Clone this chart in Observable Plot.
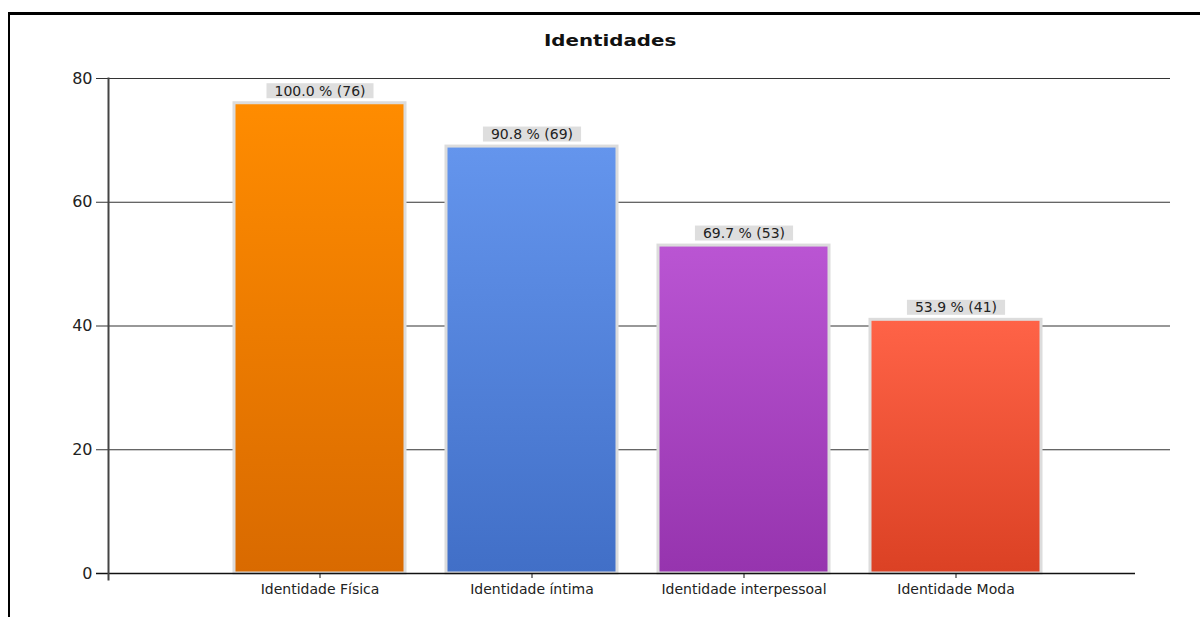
<!DOCTYPE html>
<html>
<head>
<meta charset="utf-8">
<script src="https://cdn.jsdelivr.net/npm/d3@7"></script>
<script src="https://cdn.jsdelivr.net/npm/@observablehq/plot@0.6"></script>
<style>
  html, body { margin: 0; padding: 0; background: #fff; width: 1200px; height: 617px; overflow: hidden; }
  #frame { position: absolute; left: 8px; top: 12px; width: 1300px; height: 700px; border-left: 2px solid #000; border-top: 3px solid #000; }
  #title { position: absolute; left: 0; top: 31px; width: 1220px; text-align: center; }
  #title span { display: inline-block; font-family: "DejaVu Sans", sans-serif; font-weight: bold; font-size: 16.5px; color: #111; transform: scaleX(1.2); }
  #chart { position: absolute; left: 0; top: 0; }
</style>
</head>
<body>
<div id="frame"></div>
<div id="title"><span>Identidades</span></div>
<div id="chart"></div>
<script>
const categories = ["Identidade Física", "Identidade íntima", "Identidade interpessoal", "Identidade Moda"];
const counts = [76, 69, 53, 41];
const percents = ["100.0", "90.8", "69.7", "53.9"];
const yTicks = [0, 20, 40, 60, 80];
const gridValues = [20, 40, 60, 80];
const gradientTop = ["#ff8c00", "#6495ed", "#ba55d3", "#ff6347"];
const gradientBottom = ["#d96a00", "#416fc7", "#9634ae", "#db4124"];

const data = categories.map((c, i) => ({
  category: c,
  count: counts[i],
  label: `${percents[i]} % (${counts[i]})`,
  fill: `url(#grad${i})`
}));

const chart = Plot.plot({
  width: 1200,
  height: 617,
  marginTop: 78,
  marginBottom: 44,
  marginLeft: 108,
  marginRight: 30,
  style: { fontFamily: "DejaVu Sans, sans-serif", background: "transparent" },
  x: { domain: categories, range: [214, 1062], paddingInner: 0.193, paddingOuter: 0.0965, label: null },
  y: { domain: [0, 80], label: null },
  color: { type: "identity" },
  marks: [
    Plot.ruleY(gridValues, { stroke: "#333", strokeWidth: 1.2, insetLeft: -12 }),
    Plot.barY(data, { x: "category", y: "count", fill: "fill", stroke: "#dcdcdc", strokeWidth: 3 }),
    Plot.ruleY([0], { stroke: "#111", strokeWidth: 1.5, insetLeft: -12, insetRight: 35 }),
    Plot.frame({ anchor: "left", stroke: "#444", strokeWidth: 2, insetBottom: -6 }),
    Plot.axisY({ ticks: yTicks, tickSize: 0, tickPadding: 16, fontSize: 16, fill: "#222" }),
    Plot.axisX({ tickSize: 5, tickPadding: 6, fontSize: 14, fill: "#222", stroke: "#111" }),
    Plot.text(data, { x: "category", y: "count", text: "label", dy: -12, lineAnchor: "middle", fontSize: 14, fill: "#222", className: "barlabel" })
  ]
});

document.getElementById("chart").appendChild(chart);

// gradient definitions for the bar fills
const svg = d3.select(chart);
const defs = svg.insert("defs", ":first-child");
gradientTop.forEach((c, i) => {
  const g = defs.append("linearGradient").attr("id", `grad${i}`).attr("x1", 0).attr("y1", 0).attr("x2", 0).attr("y2", 1);
  g.append("stop").attr("offset", "0%").attr("stop-color", c);
  g.append("stop").attr("offset", "100%").attr("stop-color", gradientBottom[i]);
});

// gray background boxes behind the value labels
svg.selectAll("g.barlabel text").each(function() {
  const b = this.getBBox();
  const parent = this.parentNode;
  const r = document.createElementNS("http://www.w3.org/2000/svg", "rect");
  const transform = this.getAttribute("transform");
  if (transform) r.setAttribute("transform", transform);
  r.setAttribute("x", b.x - 8);
  r.setAttribute("y", b.y + 0.5);
  r.setAttribute("width", b.width + 16);
  r.setAttribute("height", b.height - 1);
  r.setAttribute("fill", "#dedede");
  parent.insertBefore(r, this);
});
</script>
</body>
</html>
